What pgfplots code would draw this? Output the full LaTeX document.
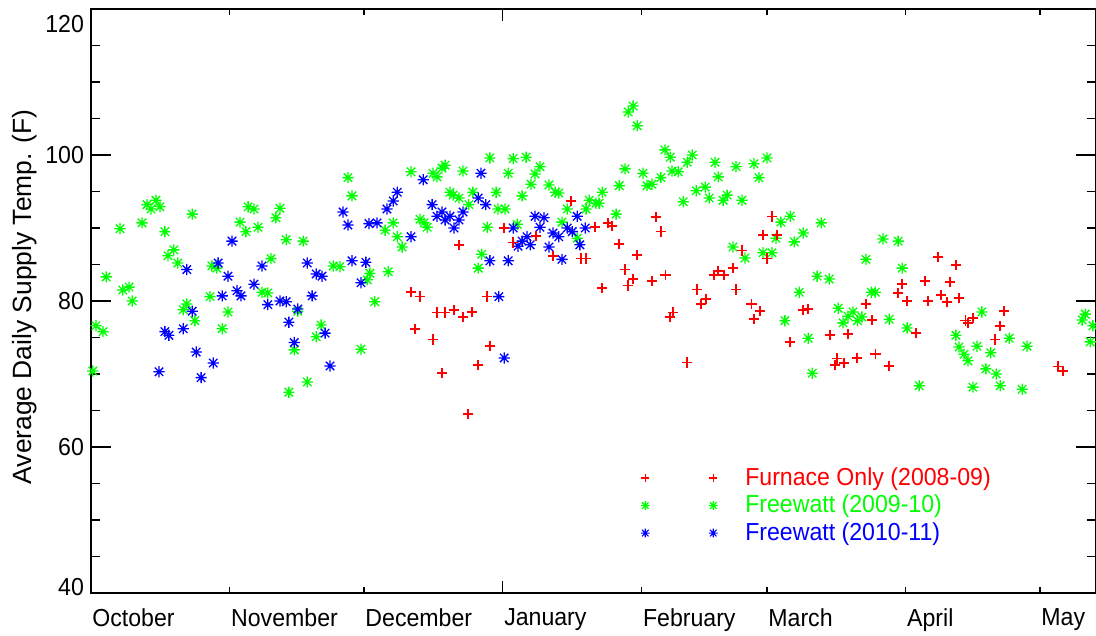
\documentclass[border=0pt]{standalone}
\usepackage{fontspec}
\setmainfont{Liberation Sans}
\newfontfamily\tickfont[FakeStretch=0.94]{Liberation Sans}
\usepackage{pgfplots}
\pgfplotsset{compat=1.18}
\definecolor{fgreen}{RGB}{0,255,0}
\definecolor{fblue}{RGB}{0,0,255}
\definecolor{fred}{RGB}{255,0,0}
\pgfdeclareplotmark{ast}{%
 \pgfpathmoveto{\pgfpoint{-\pgfplotmarksize}{0pt}}\pgfpathlineto{\pgfpoint{\pgfplotmarksize}{0pt}}%
 \pgfpathmoveto{\pgfpoint{0pt}{-\pgfplotmarksize}}\pgfpathlineto{\pgfpoint{0pt}{\pgfplotmarksize}}%
 \pgfpathmoveto{\pgfpoint{-0.75\pgfplotmarksize}{-0.75\pgfplotmarksize}}\pgfpathlineto{\pgfpoint{0.75\pgfplotmarksize}{0.75\pgfplotmarksize}}%
 \pgfpathmoveto{\pgfpoint{-0.75\pgfplotmarksize}{0.75\pgfplotmarksize}}\pgfpathlineto{\pgfpoint{0.75\pgfplotmarksize}{-0.75\pgfplotmarksize}}%
 \pgfusepathqstroke}
\pgfdeclareplotmark{pls}{%
 \pgfpathmoveto{\pgfpoint{-\pgfplotmarksize}{0pt}}\pgfpathlineto{\pgfpoint{\pgfplotmarksize}{0pt}}%
 \pgfpathmoveto{\pgfpoint{0pt}{-\pgfplotmarksize}}\pgfpathlineto{\pgfpoint{0pt}{\pgfplotmarksize}}%
 \pgfusepathqstroke}
\pgfplotsset{twomarks/.style={legend image code/.code={\draw[##1,only marks] plot coordinates {(0pt,0pt) (34pt,0pt)};}}}
\begin{document}
\begin{tikzpicture}
\begin{axis}[name=ax, scale only axis, width=502.5pt, height=292pt,
 xmin=0, xmax=224.5, ymin=40, ymax=120,
 xtick={0,31,61,92,123,151,182,212},
 xticklabels={October,November,December,January,February,March,April,May},
 extra x ticks={92}, extra x tick labels={},
 extra x tick style={xtick style={/pgfplots/major tick length=6pt}},
 ytick={40,60,80,100,120}, minor y tick num=3,
 yticklabel={\ifdim\tick pt=40pt\raisebox{-1.4pt}[0pt][0pt]{40}\else\ifdim\tick pt=120pt\raisebox{-11.9pt}[0pt][0pt]{120}\else\pgfmathprintnumber{\tick}\fi\fi},
 tick align=inside,
 major tick length=10pt, minor tick length=4.5pt,
 xtick style={/pgfplots/major tick length=3pt},
 every tick/.style={black, line width=0.6pt},
 axis line style={black, line width=0.6pt},
 /pgf/number format/assume math mode=true,
 tick label style={font=\tickfont\fontsize{12.3}{14}\selectfont},
 xticklabel style={anchor=north west, inner sep=0pt, yshift=-7.8pt, xshift=0.5pt},
 ylabel={Average Daily Supply Temp. (F)},
 label style={font=\fontsize{13.2}{15}\selectfont},
 ylabel style={at={(axis description cs:-0.066,0.507)}, anchor=center},
 legend style={at={(axis cs:121.4,57.78)}, anchor=north west, draw=none, fill=none,
   font=\tickfont\fontsize{12.3}{14}\selectfont, row sep=3.35pt, column sep=13.8pt, nodes={inner sep=0pt}},
 legend cell align=left,
]
\addlegendimage{only marks, mark=pls, fred, mark size=2pt, line width=0.6pt, twomarks}
\addlegendentry{\textcolor{fred}{Furnace Only (2008-09)}}
\addlegendimage{only marks, mark=ast, fgreen, mark size=2.2pt, line width=0.55pt, twomarks}
\addlegendentry{\textcolor{fgreen}{Freewatt (2009-10)}}
\addlegendimage{only marks, mark=ast, fblue, mark size=2.2pt, line width=0.55pt, twomarks}
\addlegendentry{\textcolor{fblue}{Freewatt (2010-11)}}

% Freewatt 2009-10
\addplot[forget plot, only marks, mark=ast, fgreen, mark size=2.8pt, line width=0.65pt] coordinates {
(57.4,96.9)(58.3,94.4)(12.5,93.2)(14.5,93.8)(13.4,92.6)(15.4,92.9)(22.6,91.9)(6.5,89.9)(11.4,90.7)(16.5,89.5)
(35.1,92.9)(36.4,92.6)(42.2,92.7)(41.3,91.4)(33.3,90.8)(34.6,89.5)(37.3,90.1)(43.6,88.4)(47.4,88.2)(18.5,87.0)
(17.2,86.2)(19.4,85.2)(40.2,85.8)(27.0,84.8)(28.1,84.5)(54.1,84.8)(55.6,84.7)(62.3,83.8)(61.7,82.9)(3.4,83.3)
(7.1,81.5)(8.5,81.9)(9.2,80.0)(38.2,81.2)(39.5,81.1)(26.6,80.6)(63.4,79.9)(21.4,79.6)(20.6,78.8)(46.2,78.6)
(30.6,78.5)(23.2,77.3)(1.1,76.6)(2.7,75.8)(29.3,76.2)(51.4,76.7)(50.3,75.1)(45.4,73.3)(60.3,73.4)(0.4,70.4)
(48.3,68.9)(44.2,67.5)
(71.5,97.7)(76.4,97.5)(77.3,97.0)(78.4,98.2)(79.1,98.6)(83.1,97.8)(89.1,99.6)(94.3,99.5)(97.2,99.7)(93.2,97.5)
(99.2,97.4)(100.3,98.4)(98.3,96.0)(102.3,95.9)(103.7,94.9)(104.5,94.8)(114.2,94.9)(80.2,94.9)(80.9,94.5)(82.2,94.1)
(85.3,94.9)(90.5,94.9)(96.3,94.4)(84.4,93.2)(90.9,92.6)(92.5,92.6)(106.4,92.6)(111.3,93.8)(112.8,93.4)(113.5,93.4)
(110.6,92.6)(73.5,91.2)(74.4,90.7)(75.1,90.1)(67.5,90.7)(65.7,89.7)(68.4,88.8)(69.5,87.4)(88.5,90.1)(95.2,90.5)
(105.2,90.8)(108.6,88.6)(87.3,86.4)(86.5,84.5)(66.4,84.0)
(120.0,105.9)(121.1,106.7)(122.0,104.0)(128.2,100.7)(129.4,99.7)(133.2,99.0)(134.3,100.0)(139.4,99.0)(144.1,98.4)(148.1,98.8)
(151.0,99.6)(149.2,96.9)(140.1,97.0)(119.3,98.1)(123.3,97.5)(127.3,96.9)(129.8,97.8)(131.2,97.7)(124.2,95.8)(125.3,96.0)
(118.0,95.8)(135.2,95.1)(137.2,95.6)(138.1,94.1)(141.2,93.8)(142.1,94.5)(145.4,93.8)(132.3,93.6)(117.3,91.9)(154.1,90.8)
(156.2,91.6)(163.1,90.7)(159.1,89.3)(157.1,88.1)(153.0,88.6)(143.4,87.4)(146.1,85.9)(150.1,86.6)(152.1,86.6)(162.2,83.4)
(164.9,83.0)(158.2,81.2)(166.9,79.0)(155.0,77.3)(160.2,74.9)(161.1,70.1)
(176.9,88.5)(180.3,88.2)(173.1,85.7)(181.2,84.5)(174.3,81.2)(175.2,81.2)(170.2,78.5)(169.1,77.9)(172.2,77.8)(168.0,77.0)
(171.2,77.3)(178.3,77.5)(182.3,76.3)(199.0,78.5)(193.2,75.3)(193.9,73.7)(195.0,72.7)(195.9,71.8)(197.9,73.8)(201.0,72.9)
(205.1,74.9)(209.1,73.8)(199.9,70.7)(202.2,70.0)(203.1,68.4)(197.0,68.2)(208.0,67.9)(185.0,68.4)(221.4,77.4)(222.1,78.2)
(223.8,76.6)(223.2,74.4)
};
% Freewatt 2010-11
\addplot[forget plot, only marks, mark=ast, fblue, mark size=2.8pt, line width=0.65pt] coordinates {
(56.3,92.2)(57.4,90.4)(62.1,90.6)(63.9,90.7)(31.5,88.2)(28.4,85.2)(21.4,84.3)(38.2,84.8)(48.3,85.2)(58.3,85.5)
(61.4,85.3)(30.6,83.4)(50.3,83.7)(51.6,83.4)(60.3,82.5)(36.4,82.3)(32.6,81.4)(33.5,80.7)(29.3,80.7)(42.2,80.0)
(43.6,79.9)(39.5,79.5)(22.6,78.6)(46.2,78.9)(49.4,80.7)(44.2,77.1)(16.5,75.8)(17.4,75.3)(20.6,76.2)(52.3,75.6)
(45.4,74.3)(23.5,73.0)(27.3,71.5)(53.4,71.1)(15.2,70.3)(24.6,69.5)
(68.4,94.9)(67.5,93.7)(66.1,92.6)(74.2,96.6)(87.1,97.5)(76.2,93.2)(77.3,91.6)(78.4,92.2)(79.1,91.1)(80.2,91.6)
(81.1,90.0)(82.2,91.1)(83.1,92.2)(86.5,94.1)(88.2,93.2)(71.5,88.8)(89.1,85.5)(93.2,85.5)(91.1,80.6)(92.3,72.2)
(94.3,90.0)(99.2,91.6)(101.2,91.4)(100.3,90.1)(103.2,89.3)(104.5,88.8)(106.4,90.0)(107.5,89.5)(110.4,90.0)(108.6,91.6)
(97.4,88.8)(96.3,88.2)(95.4,87.5)(98.1,87.7)(102.3,87.4)(105.2,85.7)(109.2,87.7)
};
% Furnace only 2008-09
\addplot[forget plot, only marks, mark=pls, fred, mark size=2.6pt, line width=0.8pt] coordinates {
(71.5,81.2)(73.5,80.6)(77.3,78.4)(79.1,78.4)(81.1,78.8)(83.1,77.8)(85.1,78.5)(88.5,80.6)(82.2,87.7)(72.4,76.2)
(76.4,74.7)(89.1,73.8)(86.5,71.2)(78.4,70.1)(84.2,64.5)(92.3,90.0)(94.3,88.0)(99.4,88.9)(107.2,93.7)(112.6,90.1)
(115.5,90.7)(116.4,90.3)(103.2,86.2)(109.5,85.8)(110.6,85.8)(114.2,81.8)
(126.2,91.5)(127.3,89.5)(118.0,87.8)(122.0,86.3)(119.3,84.3)(121.1,83.0)(120.0,82.1)(125.3,82.7)(128.3,83.6)(130.0,78.4)
(129.4,77.8)(133.2,71.6)(135.4,81.6)(137.4,80.3)(136.3,79.6)(140.1,84.1)(139.2,83.6)(141.4,83.6)(143.4,84.5)(144.1,81.6)
(145.4,86.9)(147.5,79.6)(149.5,78.6)(148.1,77.5)(151.0,85.8)(152.1,91.6)(150.1,89.0)(153.2,89.0)(156.2,74.4)(159.1,78.8)
(160.2,78.9)(165.1,75.3)(166.7,72.1)(166.2,71.2)
(189.2,86.0)(193.2,84.9)(181.2,82.3)(186.3,82.7)(191.9,82.6)(180.3,81.1)(182.3,80.0)(187.0,80.0)(189.9,80.8)(191.2,79.9)
(193.9,80.4)(173.1,79.6)(174.5,77.4)(169.1,75.5)(184.3,75.6)(195.3,77.3)(197.0,77.7)(195.9,77.0)(203.9,78.6)(203.1,76.6)
(202.0,74.7)(168.2,71.5)(171.1,72.2)(175.2,72.7)(178.3,71.1)(216.0,71.0)(217.1,70.4)
};
\end{axis}
\pgfresetboundingbox
\path ([shift={(-45.5pt,-21.5pt)}]ax.south west) rectangle ([shift={(0pt,4.5pt)}]ax.north east);
\end{tikzpicture}
\end{document}
